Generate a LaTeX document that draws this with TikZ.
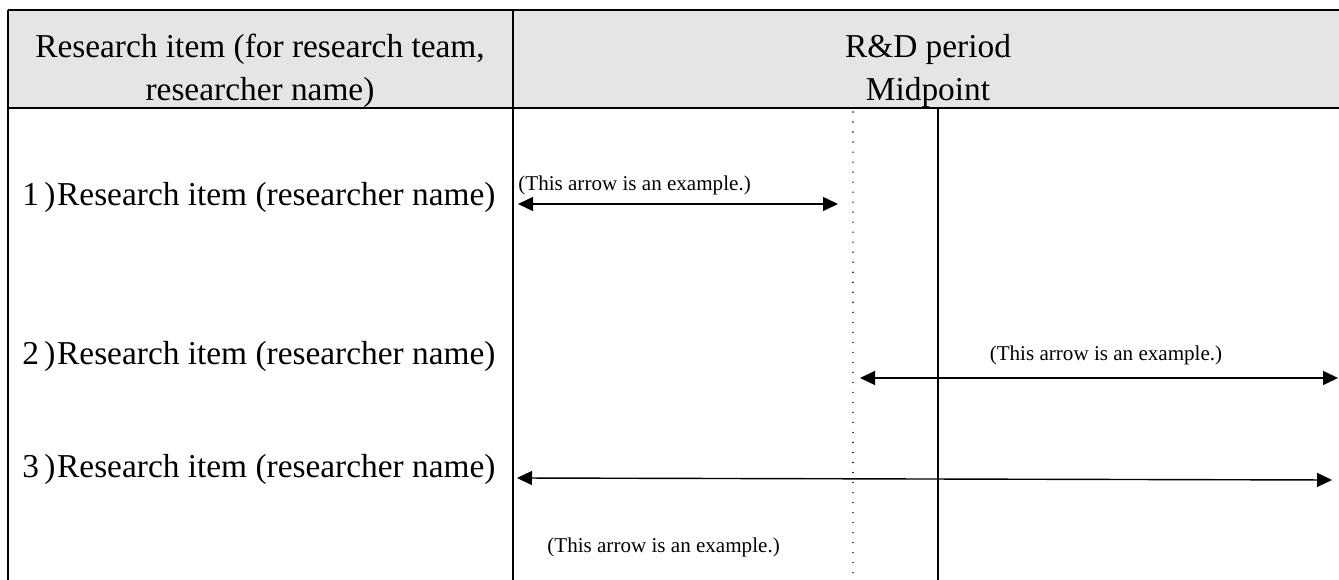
\documentclass[tikz,border=0pt]{standalone}
\usepackage{fontspec}
\setmainfont{Liberation Serif}
\usetikzlibrary{arrows.meta}
\usetikzlibrary{positioning}

\tikzset{
  frame/.style={line width=1.4pt},
  thinline/.style={line width=0.9pt},
  period/.style={line width=0.8pt, {Triangle[length=0.3cm,width=0.28cm]}-{Triangle[length=0.3cm,width=0.28cm]}},
  hdrtext/.style={align=center, inner sep=0pt, font=\fontsize{19pt}{24.5pt}\selectfont},
  itemtext/.style={anchor=west, inner sep=0pt, font=\fontsize{19pt}{22pt}\selectfont},
  notetext/.style={inner sep=0pt, font=\fontsize{12pt}{14pt}\selectfont}
}

\begin{document}
\begin{tikzpicture}[x=0.02cm, y=-0.02cm]
  \useasboundingbox (0,0) rectangle (1339,580);

  % header
  \fill[black!10] (8,10) rectangle (1339,108);
  \draw[frame] (8,10) -- (1339,10);
  \draw[frame] (8,108) -- (1339,108);
  \draw[frame] (8,10) -- (8,580);
  \draw[frame] (513,10) -- (513,580);

  \node[hdrtext] (hdritem) at (260,71) {Research item (for research team,\\researcher name)};
  \node[hdrtext] (hdrperiod) at (928,71) {R\&D period\\Midpoint};

  % midpoint marks
  \draw[line width=0.9pt, line cap=round, dash pattern=on 0pt off 5.7pt] (853,112) -- (853,580);
  \draw[thinline] (938,108) -- (938,580);

  \foreach \num/\y in {1/197, 2/356, 3/469} {
    \node[itemtext] (item\num) at (22,\y) {\num\kern3pt)\kern1pt Research item (researcher name)};
  }

  % example arrows
  \coordinate (a1l) at (518,204);
  \coordinate (a1r) at (838,204);
  \coordinate (a2l) at (860,378);
  \coordinate (a2r) at (1338,378);
  \coordinate (a3l) at (517,478);
  \coordinate (a3r) at (1332,480);

  \draw[period] (a1l) -- (a1r);
  \draw[period] (a2l) -- (a2r);
  \draw[period] (a3l) -- (a3r);

  \node[notetext, anchor=west] (note1) at (518,185) {(This arrow is an example.)};
  \node[notetext] (note2) at (1106,355) {(This arrow is an example.)};
  \node[notetext, anchor=west] (note3) at (547,547) {(This arrow is an example.)};

\end{tikzpicture}
\end{document}
